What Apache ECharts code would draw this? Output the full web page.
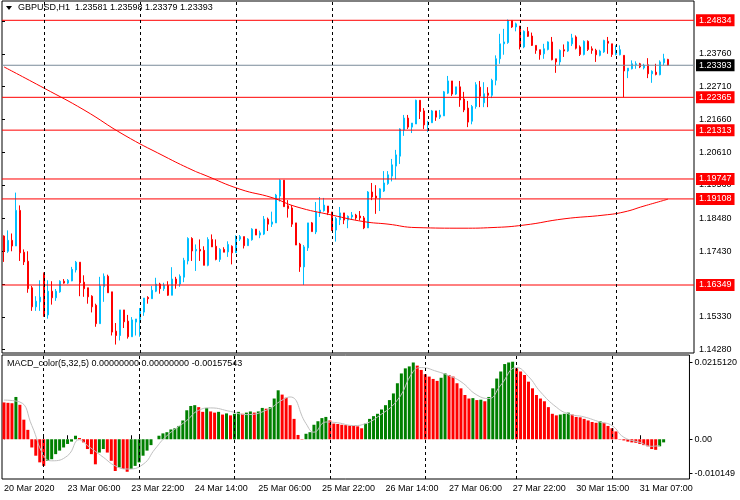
<!DOCTYPE html>
<html><head><meta charset="utf-8">
<script src="https://cdn.jsdelivr.net/npm/echarts@6/dist/echarts.min.js"></script>
<style>html,body{margin:0;padding:0;background:#fff}#c{width:740px;height:500px}</style>
</head><body><div id="c"></div>
<script>
// ---- data ----
const opens=[1.1792,1.1743,1.1778,1.1760,1.1874,1.1740,1.1711,1.1626,1.1565,1.1581,1.1672,1.1539,1.1615,1.1594,1.1613,1.1647,1.1641,1.1648,1.1683,1.1708,1.1644,1.1626,1.1599,1.1570,1.1511,1.1629,1.1663,1.1613,1.1487,1.1473,1.1555,1.1519,1.1469,1.1516,1.1524,1.1548,1.1595,1.1591,1.1615,1.1638,1.1623,1.1634,1.1602,1.1654,1.1638,1.1660,1.1712,1.1784,1.1744,1.1749,1.1746,1.1698,1.1781,1.1759,1.1717,1.1749,1.1741,1.1759,1.1738,1.1782,1.1790,1.1761,1.1780,1.1814,1.1795,1.1798,1.1846,1.1830,1.1834,1.1920,1.1971,1.1889,1.1882,1.1834,1.1766,1.1693,1.1754,1.1834,1.1805,1.1866,1.1873,1.1888,1.1869,1.1811,1.1844,1.1866,1.1843,1.1853,1.1859,1.1856,1.1850,1.1818,1.1933,1.1920,1.1914,1.1936,1.1960,1.1984,1.2016,1.2048,1.2132,1.2170,1.2141,1.2151,1.2227,1.2193,1.2148,1.2155,1.2193,1.2173,1.2177,1.2250,1.2289,1.2247,1.2270,1.2231,1.2202,1.2160,1.2207,1.2269,1.2219,1.2250,1.2243,1.2291,1.2360,1.2408,1.2412,1.2483,1.2462,1.2465,1.2398,1.2448,1.2433,1.2403,1.2389,1.2376,1.2390,1.2414,1.2360,1.2350,1.2389,1.2385,1.2408,1.2430,1.2398,1.2374,1.2416,1.2392,1.2387,1.2371,1.2382,1.2416,1.2408,1.2374,1.2373,1.2371,1.2321,1.2328,1.2341,1.2344,1.2331,1.2341,1.2312,1.2317,1.2309,1.2347,1.23581];
const highs=[1.1794,1.1810,1.1800,1.1931,1.1890,1.1749,1.1743,1.1632,1.1599,1.1650,1.1675,1.1650,1.1647,1.1622,1.1650,1.1654,1.1654,1.1693,1.1712,1.1708,1.1666,1.1626,1.1602,1.1575,1.1661,1.1672,1.1668,1.1613,1.1513,1.1555,1.1555,1.1539,1.1532,1.1526,1.1561,1.1593,1.1599,1.1632,1.1658,1.1642,1.1642,1.1647,1.1692,1.1661,1.1669,1.1722,1.1788,1.1788,1.1765,1.1781,1.1759,1.1788,1.1797,1.1781,1.1753,1.1756,1.1775,1.1762,1.1794,1.1795,1.1790,1.1785,1.1817,1.1814,1.1809,1.1856,1.1851,1.1870,1.1927,1.1974,1.1971,1.1907,1.1891,1.1834,1.1770,1.1763,1.1834,1.1837,1.1901,1.1917,1.1914,1.1888,1.1869,1.1853,1.1885,1.1866,1.1858,1.1869,1.1863,1.1872,1.1856,1.1936,1.1962,1.1955,1.1945,1.2000,1.2000,1.2039,1.2068,1.2137,1.2180,1.2180,1.2154,1.2229,1.2227,1.2202,1.2161,1.2196,1.2193,1.2196,1.2257,1.2305,1.2289,1.2270,1.2289,1.2254,1.2225,1.2212,1.2285,1.2289,1.2285,1.2269,1.2296,1.2371,1.2440,1.2456,1.2486,1.2483,1.2476,1.2465,1.2451,1.2462,1.2444,1.2403,1.2389,1.2408,1.2416,1.2430,1.2360,1.2390,1.2406,1.2416,1.2440,1.2435,1.2403,1.2419,1.2419,1.2400,1.2392,1.2389,1.2421,1.2430,1.2408,1.2403,1.2403,1.2371,1.2330,1.2355,1.2352,1.2347,1.2344,1.2362,1.2323,1.2344,1.2355,1.2376,1.23598];
const lows=[1.1709,1.1738,1.1743,1.1760,1.1712,1.1699,1.1610,1.1552,1.1552,1.1552,1.1533,1.1527,1.1572,1.1584,1.1610,1.1639,1.1638,1.1647,1.1675,1.1599,1.1597,1.1575,1.1547,1.1501,1.1511,1.1581,1.1610,1.1473,1.1444,1.1457,1.1497,1.1463,1.1469,1.1473,1.1469,1.1536,1.1575,1.1591,1.1612,1.1607,1.1616,1.1600,1.1602,1.1623,1.1629,1.1644,1.1701,1.1712,1.1680,1.1712,1.1698,1.1695,1.1757,1.1714,1.1709,1.1740,1.1725,1.1701,1.1738,1.1776,1.1752,1.1761,1.1777,1.1795,1.1785,1.1795,1.1808,1.1821,1.1834,1.1902,1.1886,1.1851,1.1821,1.1763,1.1677,1.1635,1.1744,1.1806,1.1798,1.1853,1.1870,1.1859,1.1808,1.1774,1.1827,1.1830,1.1817,1.1844,1.1844,1.1842,1.1814,1.1818,1.1907,1.1863,1.1872,1.1933,1.1956,1.1967,1.1974,1.2023,1.2113,1.2135,1.2122,1.2151,1.2167,1.2135,1.2125,1.2155,1.2161,1.2167,1.2177,1.2247,1.2241,1.2244,1.2206,1.2189,1.2141,1.2150,1.2200,1.2205,1.2205,1.2205,1.2234,1.2275,1.2344,1.2373,1.2408,1.2459,1.2448,1.2390,1.2394,1.2430,1.2401,1.2376,1.2357,1.2360,1.2387,1.2355,1.2315,1.2339,1.2366,1.2382,1.2401,1.2390,1.2369,1.2371,1.2385,1.2376,1.2350,1.2368,1.2379,1.2376,1.2366,1.2371,1.2371,1.2237,1.2298,1.2326,1.2328,1.2330,1.2326,1.2298,1.2283,1.2307,1.2307,1.2339,1.23379];
const closes=[1.1743,1.1778,1.1760,1.1874,1.1738,1.1709,1.1623,1.1565,1.1583,1.1596,1.1539,1.1615,1.1594,1.1615,1.1647,1.1641,1.1650,1.1685,1.1708,1.1642,1.1623,1.1597,1.1565,1.1511,1.1632,1.1663,1.1610,1.1484,1.1473,1.1555,1.1517,1.1469,1.1523,1.1526,1.1551,1.1593,1.1591,1.1618,1.1638,1.1623,1.1634,1.1602,1.1654,1.1639,1.1663,1.1714,1.1784,1.1744,1.1749,1.1744,1.1698,1.1781,1.1757,1.1717,1.1749,1.1740,1.1765,1.1738,1.1784,1.1790,1.1761,1.1782,1.1814,1.1795,1.1802,1.1846,1.1830,1.1837,1.1923,1.1971,1.1886,1.1880,1.1830,1.1763,1.1693,1.1757,1.1834,1.1806,1.1869,1.1875,1.1891,1.1867,1.1811,1.1848,1.1866,1.1843,1.1855,1.1859,1.1850,1.1850,1.1818,1.1933,1.1917,1.1914,1.1943,1.1962,1.1988,1.2020,1.2052,1.2135,1.2170,1.2141,1.2154,1.2227,1.2191,1.2148,1.2157,1.2193,1.2173,1.2180,1.2254,1.2289,1.2247,1.2270,1.2228,1.2196,1.2157,1.2207,1.2277,1.2240,1.2248,1.2243,1.2291,1.2360,1.2408,1.2414,1.2483,1.2462,1.2472,1.2398,1.2448,1.2432,1.2403,1.2387,1.2373,1.2392,1.2414,1.2357,1.2350,1.2387,1.2385,1.2414,1.2427,1.2394,1.2374,1.2416,1.2390,1.2387,1.2373,1.2385,1.2419,1.2410,1.2374,1.2387,1.2389,1.2321,1.2330,1.2344,1.2344,1.2334,1.2339,1.2312,1.2320,1.2310,1.2350,1.2360,1.23393];
// time axis labels, one every 16 hourly bars
const timeLabels=['20 Mar 2020','23 Mar 06:00','23 Mar 22:00','24 Mar 14:00','25 Mar 06:00','25 Mar 22:00','26 Mar 14:00','27 Mar 06:00','27 Mar 22:00','30 Mar 15:00','31 Mar 07:00'];
const labelStep=16;
const separatorIdx=[10,34,58,82,106,129,153];   // day separators (bar index)
// moving average (read at sampled bars)
const maIdx=[0,10,20,30,40,47,50,59,67,73,82,90,96,103,115,122,130,140,150,155,160,166];
const maVal=[1.2334,1.2266,1.2196,1.2116,1.2048,1.2004,1.1988,1.1942,1.1915,1.1886,1.1859,1.1838,1.1830,1.1819,1.1817,1.1819,1.1827,1.1847,1.1859,1.1869,1.1888,1.1910];
// horizontal levels
const levels=[1.24834,1.22365,1.21313,1.19747,1.19108,1.16349];
const bidPrice=1.23393;
const priceTicks=[1.14280,1.15330,1.16380,1.17430,1.18480,1.19560,1.20610,1.21660,1.22710,1.23760,1.24810];
// MACD histogram
const macdHist=[0.0094,0.0093,0.0092,0.0108,0.0088,0.0050,0.0024,-0.0021,-0.0042,-0.0059,-0.0068,-0.0055,-0.0051,-0.0038,-0.0029,-0.0021,-0.0012,-0.0006,0.0009,0.0003,-0.0008,-0.0025,-0.0038,-0.0064,-0.0034,-0.0025,-0.0034,-0.0055,-0.0081,-0.0072,-0.0076,-0.0083,-0.0076,-0.0068,-0.0059,-0.0042,-0.0029,-0.0015,0.0000,0.0009,0.0015,0.0018,0.0025,0.0028,0.0034,0.0048,0.0074,0.0085,0.0087,0.0082,0.0070,0.0080,0.0071,0.0068,0.0070,0.0063,0.0066,0.0061,0.0065,0.0070,0.0065,0.0068,0.0071,0.0068,0.0071,0.0080,0.0078,0.0082,0.0104,0.0125,0.0114,0.0106,0.0087,0.0052,0.0011,-0.0001,0.0014,0.0018,0.0037,0.0046,0.0054,0.0057,0.0048,0.0040,0.0039,0.0037,0.0036,0.0035,0.0034,0.0033,0.0028,0.0040,0.0052,0.0059,0.0065,0.0076,0.0087,0.0100,0.0117,0.0143,0.0168,0.0181,0.0186,0.0196,0.0188,0.0177,0.0166,0.0160,0.0154,0.0149,0.0157,0.0168,0.0164,0.0160,0.0143,0.0130,0.0113,0.0104,0.0105,0.0100,0.0101,0.0097,0.0108,0.0130,0.0155,0.0173,0.0192,0.0196,0.0198,0.0181,0.0173,0.0164,0.0147,0.0130,0.0113,0.0104,0.0097,0.0082,0.0065,0.0061,0.0063,0.0065,0.0068,0.0063,0.0057,0.0056,0.0052,0.0048,0.0044,0.0042,0.0046,0.0042,0.0034,0.0028,0.0020,-0.0001,-0.0003,-0.0006,-0.0008,-0.0009,-0.0012,-0.0015,-0.0018,-0.0025,-0.0027,-0.0018,-0.0008];
// MACD signal line (read at sampled bars)
const sigIdx=[0,4,7,10,12,16,19,21,25,28,31,35,38,41,46,49,52,57,61,66,70,72,76,78,81,84,88,91,94,99,103,105,109,112,115,119,122,125,129,132,135,139,142,146,150,153,156,160,163,165];
const sigVal=[0.0100,0.0095,0.0035,-0.0042,-0.0055,-0.0042,-0.0001,-0.0016,-0.0046,-0.0068,-0.0076,-0.0064,-0.0025,0.0009,0.0048,0.0074,0.0080,0.0071,0.0063,0.0074,0.0100,0.0108,0.0040,0.0018,0.0044,0.0042,0.0035,0.0040,0.0057,0.0100,0.0173,0.0183,0.0173,0.0162,0.0147,0.0113,0.0104,0.0138,0.0183,0.0160,0.0121,0.0082,0.0065,0.0057,0.0044,0.0035,0.0005,-0.0008,-0.0018,-0.0016];
const macdMin=-0.010149, macdMax=0.0215120;
const macdTickVals=[0.01958,0,-0.00876];
const macdTickLabels=['0.0215120','0.00','-0.010149'];
const titleText='GBPUSD,H1  1.23581 1.23598 1.23379 1.23393';
const macdTitle='MACD_color(5,32,5) 0.00000000 0.00000000 -0.00157543';

// ---- build ----
const SLOTS=173;
const FONT='"Liberation Sans", Arial, sans-serif';
const cats=[]; for(let i=0;i<SLOTS;i++) cats.push(String(i));
const candles=opens.map((o,i)=>[o,closes[i],lows[i],highs[i]]);
const maData=new Array(SLOTS).fill(null); maIdx.forEach((k,j)=>maData[k]=maVal[j]);
const sigData=new Array(SLOTS).fill(null); sigIdx.forEach((k,j)=>sigData[k]=sigVal[j]);
const histData=macdHist.map((v,i)=>({value:v,itemStyle:{color:(i>0&&v>macdHist[i-1])?'#008000':'#FF0000'}}));
const sepStyle={color:'#000',width:1,type:[3,3]};
const sepLines=separatorIdx.map(k=>({xAxis:k,lineStyle:sepStyle,label:{show:false}}));

function levelSeries(v,lineColor,boxColor){
  return {type:'line',xAxisIndex:2,yAxisIndex:0,data:[[0,v],[1,v]],showSymbol:false,silent:true,z:4,
    lineStyle:{color:lineColor,width:1},
    endLabel:{show:true,distance:2,formatter:()=>v.toFixed(5),backgroundColor:boxColor,color:'#fff',
      padding:[2,3,1,3],fontSize:9,fontFamily:FONT,align:'left',verticalAlign:'middle'}};
}

const chart=echarts.init(document.getElementById('c'),null,{renderer:'canvas'});
chart.setOption({
  animation:false,
  backgroundColor:'#fff',
  grid:[
    {left:2,right:46,top:1,height:352,show:true,borderColor:'#000',borderWidth:1,backgroundColor:'transparent'},
    {left:2,right:46,top:355,height:124,show:true,borderColor:'#000',borderWidth:1,backgroundColor:'transparent'}
  ],
  xAxis:[
    {type:'category',gridIndex:0,data:cats,boundaryGap:true,axisLine:{show:false},axisTick:{show:false},axisLabel:{show:false},splitLine:{show:false}},
    {type:'category',gridIndex:1,data:cats,boundaryGap:true,axisLine:{show:false},
     axisTick:{show:true,inside:true,length:4,alignWithLabel:true,lineStyle:{color:'#000'},
       interval:(i)=>(i%labelStep===0&&i/labelStep<timeLabels.length)||separatorIdx.includes(i)},
     axisLabel:{show:true,interval:(i)=>i%labelStep===0&&i/labelStep<timeLabels.length,align:'left',margin:5,
       fontSize:9,fontFamily:FONT,color:'#000',formatter:(v,i)=>timeLabels[i/labelStep]||''},
     splitLine:{show:false}},
    {type:'value',gridIndex:0,min:0,max:1,show:false}
  ],
  yAxis:[
    {type:'value',gridIndex:0,position:'right',min:1.141693,max:1.254526,splitLine:{show:false},axisLine:{show:false},
     axisTick:{show:true,length:3,customValues:priceTicks,lineStyle:{color:'#000'}},
     axisLabel:{show:true,customValues:priceTicks,margin:5,fontSize:9,fontFamily:FONT,color:'#000',formatter:v=>v.toFixed(5)}},
    {type:'value',gridIndex:1,position:'right',min:macdMin,max:macdMax,splitLine:{show:false},axisLine:{show:false},
     axisTick:{show:true,length:3,customValues:macdTickVals,lineStyle:{color:'#000'}},
     axisLabel:{show:true,customValues:macdTickVals,margin:5,fontSize:9,fontFamily:FONT,color:'#000',
       formatter:v=>{let b=0;macdTickVals.forEach((t,j)=>{if(Math.abs(t-v)<Math.abs(macdTickVals[b]-v))b=j;});return macdTickLabels[b];}}}
  ],
  graphic:[
    {type:'polygon',shape:{points:[[6,6],[12,6],[9,10]]},style:{fill:'#000'},z:100},
    {type:'text',left:18,top:3,style:{text:titleText,font:'9px '+FONT,fill:'#000'},z:100},
    {type:'text',left:7,top:359,style:{text:macdTitle,font:'9px '+FONT,fill:'#000'},z:100}
  ],
  series:[
    {type:'candlestick',xAxisIndex:0,yAxisIndex:0,data:candles,barWidth:2,z:2,
     itemStyle:{color:'#00BFFF',color0:'#FF0000',borderColor:'#00BFFF',borderColor0:'#FF0000',borderWidth:1},
     markLine:{silent:true,symbol:'none',animation:false,data:sepLines}},
    {type:'line',xAxisIndex:0,yAxisIndex:0,data:maData,connectNulls:true,smooth:true,showSymbol:false,
     lineStyle:{color:'#FF0000',width:1},z:3}
  ].concat(levels.map(v=>levelSeries(v,'#FF0000','#FF0000')))
   .concat([levelSeries(bidPrice,'#7a8a99','#000')])
   .concat([
    {type:'bar',xAxisIndex:1,yAxisIndex:1,data:histData,barWidth:3},
    {type:'line',xAxisIndex:1,yAxisIndex:1,data:sigData,connectNulls:true,smooth:true,showSymbol:false,
     lineStyle:{color:'#C0C0C0',width:1},z:3,
     markLine:{silent:true,symbol:'none',animation:false,data:sepLines}}
  ])
});
</script></body></html>
